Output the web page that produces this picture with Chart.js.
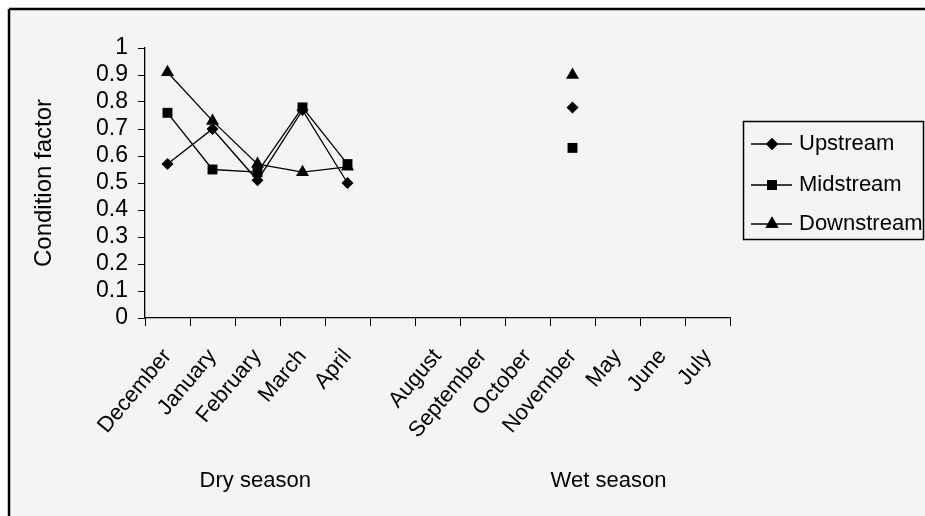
<!DOCTYPE html>
<html>
<head>
<meta charset="utf-8">
<script src="https://cdn.jsdelivr.net/npm/chart.js@4"></script>
<style>
    html, body { margin: 0; padding: 0; background: #fff; }
    #wrap { width: 925px; height: 516px; }
</style>
</head>
<body>
<div id="wrap"><canvas id="chart" width="925" height="516"></canvas></div>
<script>
// categories: 5 dry season months, one empty slot, then the wet season months
const months = ['December', 'January', 'February', 'March', 'April', '', 'August', 'September', 'October', 'November', 'May', 'June', 'July'];

const upstream   = [0.57, 0.70, 0.51, 0.77, 0.50, null, null, null, null, 0.78, null, null, null];
const midstream  = [0.76, 0.55, 0.54, 0.78, 0.57, null, null, null, null, 0.63, null, null, null];
const downstream = [0.91, 0.73, 0.57, 0.54, 0.56, null, null, null, null, 0.90, null, null, null];

const seriesNames = ['Upstream', 'Midstream', 'Downstream'];
const seasonNames = ['Dry season', 'Wet season'];
const seasonCenters = [1.95, 9.8]; // category index under each season label

const font = '"Liberation Sans", Arial, sans-serif';

function makeSet(label, data, style, radius) {
    return {
        label: label,
        data: data,
        borderColor: '#000',
        borderWidth: 1.3,
        backgroundColor: '#000',
        pointBackgroundColor: '#000',
        pointBorderColor: '#000',
        pointBorderWidth: 0,
        pointStyle: style,
        pointRadius: radius,
        pointHoverRadius: radius,
        spanGaps: false,
        tension: 0
    };
}

// background panel with the frame lines
const framePlugin = {
    id: 'frame',
    beforeDraw(chart) {
        const ctx = chart.ctx;
        ctx.save();
        ctx.fillStyle = '#fff';
        ctx.fillRect(0, 0, chart.width, chart.height);
        ctx.fillStyle = '#f4f4f4';
        ctx.fillRect(9, 9, chart.width - 9, chart.height - 9);
        ctx.strokeStyle = '#000';
        ctx.lineWidth = 2.5;
        ctx.beginPath();
        ctx.moveTo(9, 9);
        ctx.lineTo(chart.width, 9);
        ctx.moveTo(9, 9);
        ctx.lineTo(9, chart.height);
        ctx.stroke();
        ctx.restore();
    }
};

function drawMarker(ctx, style, radius, x, y) {
    if (Chart.helpers && Chart.helpers.drawPoint) {
        Chart.helpers.drawPoint(ctx, { pointStyle: style, radius: radius, rotation: 0, borderWidth: 0 }, x, y);
        ctx.fill();
    }
}

// season labels under the axis and the boxed legend on the right
const extrasPlugin = {
    id: 'extras',
    afterDraw(chart) {
        const ctx = chart.ctx;
        const xScale = chart.scales.x;
        ctx.save();
        ctx.fillStyle = '#000';
        ctx.font = '22px ' + font;
        ctx.textAlign = 'center';
        ctx.textBaseline = 'middle';
        seasonNames.forEach(function (name, i) {
            ctx.fillText(name, xScale.getPixelForValue(seasonCenters[i]), 481);
        });

        // legend
        ctx.strokeStyle = '#000';
        ctx.lineWidth = 1.5;
        ctx.strokeRect(743.5, 121.5, 180, 118);
        ctx.textAlign = 'left';
        const rows = [144, 185, 224];
        chart.data.datasets.forEach(function (ds, i) {
            const y = rows[i];
            ctx.lineWidth = 1.3;
            ctx.beginPath();
            ctx.moveTo(751, y);
            ctx.lineTo(792, y);
            ctx.stroke();
            ctx.fillStyle = '#000';
            drawMarker(ctx, ds.pointStyle, ds.pointRadius, 772, y);
            ctx.fillText(ds.label, 799, y);
        });
        ctx.restore();
    }
};

const dataChart = {
    labels: months,
    datasets: [
        makeSet(seriesNames[0], upstream, 'rectRot', 6),
        makeSet(seriesNames[1], midstream, 'rect', 7),
        makeSet(seriesNames[2], downstream, 'triangle', 7.5)
    ]
};

const configChart = {
    type: 'line',
    data: dataChart,
    options: {
        responsive: false,
        animation: false,
        devicePixelRatio: 1,
        layout: { padding: { top: 48, right: 195, left: 0, bottom: 0 } },
        plugins: {
            legend: { display: false },
            tooltip: { enabled: false }
        },
        scales: {
            x: {
                type: 'category',
                offset: true,
                afterFit(scale) { scale.height = 198; },
                grid: { offset: true, drawOnChartArea: false, drawTicks: true, tickLength: 8, color: '#000', lineWidth: 1 },
                border: { color: '#000', width: 1.3 },
                ticks: {
                    autoSkip: false,
                    maxRotation: 50,
                    minRotation: 50,
                    padding: 18,
                    color: '#000',
                    font: { family: font, size: 22 }
                }
            },
            y: {
                min: 0,
                max: 1,
                afterFit(scale) { scale.width = 145; },
                grid: { drawOnChartArea: false, drawTicks: true, tickLength: 7, color: '#000', lineWidth: 1 },
                border: { color: '#000', width: 1.3 },
                ticks: {
                    stepSize: 0.1,
                    autoSkip: false,
                    padding: 10,
                    color: '#000',
                    font: { family: font, size: 23 },
                    callback: function (value) { return String(Number(value.toFixed(1))); }
                },
                title: {
                    display: true,
                    text: 'Condition factor',
                    color: '#000',
                    padding: { top: 30, bottom: 0 },
                    font: { family: font, size: 24 }
                }
            }
        }
    },
    plugins: [framePlugin, extrasPlugin]
};

let chart = new Chart(document.getElementById('chart').getContext('2d'), configChart);
</script>
</body>
</html>
